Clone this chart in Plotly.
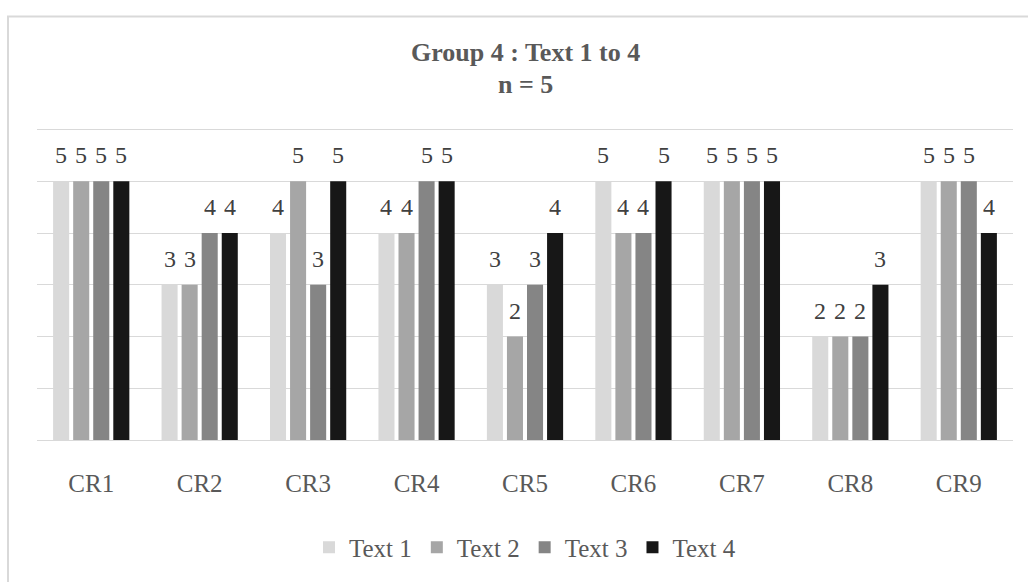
import plotly.graph_objects as go

# Criteria on the x axis
categories = ["CR1", "CR2", "CR3", "CR4", "CR5", "CR6", "CR7", "CR8", "CR9"]

# Scores per text
text1 = [5, 3, 4, 4, 3, 5, 5, 2, 5]
text2 = [5, 3, 5, 4, 2, 4, 5, 2, 5]
text3 = [5, 4, 3, 5, 3, 4, 5, 2, 5]
text4 = [5, 4, 5, 5, 4, 5, 5, 3, 4]

series_names = ["Text 1", "Text 2", "Text 3", "Text 4"]
series_values = [text1, text2, text3, text4]
series_colors = ["#d9d9d9", "#a6a6a6", "#858585", "#171717"]

FONT = "Liberation Serif, Times New Roman, serif"

W, H = 1028, 582
Y_MAX = 6.05
L, R, T, B = 37, 15, 127, 138
pw, ph = W - L - R, H - T - B
BARGAP, BARGROUPGAP = 0.26, 0.2

def px_x(v):
    return (v - L) / pw

def px_y(v):
    return (H - B - v) / ph

fig = go.Figure()
for name, vals, color in zip(series_names, series_values, series_colors):
    fig.add_trace(go.Bar(
        x=categories,
        y=vals,
        name=name,
        marker=dict(color=color, line=dict(width=0)),
    ))

# Value labels above each bar, offset to the bar's slot within its group
slot_px = pw / len(categories) * (1 - BARGAP) / len(series_names)
annotations = []
for i, vals in enumerate(series_values):
    dx = (i - (len(series_names) - 1) / 2) * slot_px
    for cat, v in zip(categories, vals):
        annotations.append(dict(
            x=cat, y=v, xref="x", yref="y",
            text=str(v), showarrow=False,
            xanchor="center", yanchor="bottom",
            xshift=dx, yshift=11,
            font=dict(family=FONT, size=24, color="#404040"),
        ))

annotations += [
    dict(text="<b>Group 4 : Text 1 to 4</b>", xref="paper", yref="paper",
         x=0.5, y=px_y(52), xanchor="center", yanchor="middle", showarrow=False,
         font=dict(family=FONT, size=26, color="#595959")),
    dict(text="<b>n = 5</b>", xref="paper", yref="paper",
         x=0.5, y=px_y(84), xanchor="center", yanchor="middle", showarrow=False,
         font=dict(family=FONT, size=26, color="#595959")),
]

fig.update_layout(
    width=W,
    height=H,
    margin=dict(l=L, r=R, t=T, b=B),
    paper_bgcolor="white",
    plot_bgcolor="white",
    barmode="group",
    bargap=BARGAP,
    bargroupgap=BARGROUPGAP,
    font=dict(family=FONT, size=24, color="#595959"),
    showlegend=True,
    legend=dict(
        orientation="h",
        x=0.5, xanchor="center",
        y=px_y(553), yanchor="middle",
        font=dict(family=FONT, size=25, color="#595959"),
        itemwidth=30,
        traceorder="normal",
    ),
    xaxis=dict(
        showgrid=False,
        showline=False,
        zeroline=False,
        ticks="",
        ticklabelstandoff=26,
        tickfont=dict(family=FONT, size=25, color="#595959"),
    ),
    yaxis=dict(
        range=[0, Y_MAX],
        dtick=1,
        showticklabels=False,
        showgrid=True,
        gridcolor="#d9d9d9",
        gridwidth=1,
        zeroline=True,
        zerolinecolor="#d9d9d9",
        zerolinewidth=1,
        showline=False,
        ticks="",
    ),
    shapes=[dict(
        type="rect", xref="paper", yref="paper",
        x0=px_x(8), x1=px_x(1032), y0=px_y(590), y1=px_y(15),
        line=dict(color="#d9d9d9", width=2),
        fillcolor="rgba(0,0,0,0)",
        layer="below",
    )],
    annotations=annotations,
)

fig.write_html("out.html")
